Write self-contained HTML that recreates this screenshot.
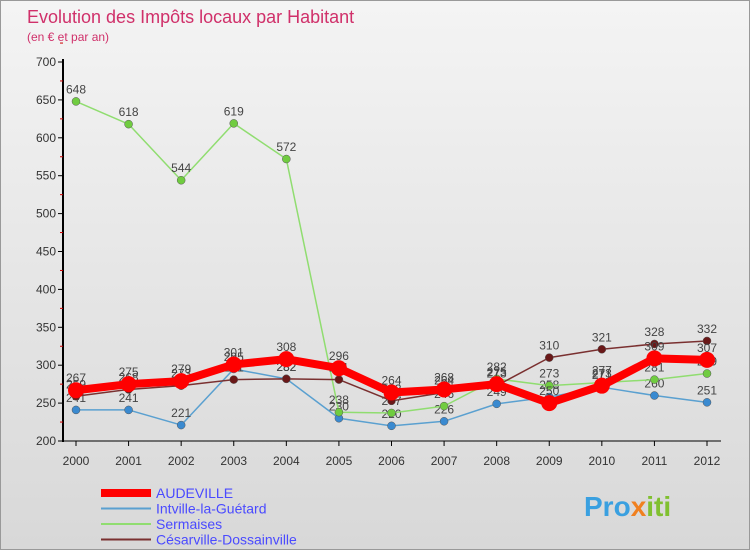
<!DOCTYPE html>
<html><head><meta charset="utf-8">
<style>
body{margin:0;width:750px;height:550px;overflow:hidden;font-family:"Liberation Sans",sans-serif;}
#wrap{position:relative;width:748px;height:548px;border:1px solid #999;background:linear-gradient(#f4f4f4,#d8d8d8);}
svg text{font-family:"Liberation Sans",sans-serif;}
</style></head><body>
<div id="wrap">
<svg id="chart" width="748" height="548">
<text x="26" y="22" font-size="18" fill="#d0306a">Evolution des Impôts locaux par Habitant</text>
<text x="26" y="40" font-size="12" fill="#d0306a">(en € et par an)</text>
<g id="axes"></g><g id="series"></g><g id="legend"></g>
<text x="583" y="515" font-size="28" font-weight="bold" fill="#3aa0e0">Pro<tspan fill="#f08020">x</tspan><tspan fill="#80c030">iti</tspan></text>
</svg></div>
<script>
const years=["2000","2001","2002","2003","2004","2005","2006","2007","2008","2009","2010","2011","2012"];
const yTicks=[200,250,300,350,400,450,500,550,600,650,700];
const audeville=[267,275,279,301,308,296,264,268,275,250,273,309,307];
const intville=[241,241,221,295,282,230,220,226,249,258,271,260,251];
const sermaises=[648,618,544,619,572,238,237,246,282,273,277,281,289];
const cesarville=[259,268,273,281,282,281,253,264,273,310,321,328,332];
const NS="http://www.w3.org/2000/svg";
function X(i){return 75+i*(706-75)/(years.length-1);}
function Y(v){return 440-(v-200)*(379/500);}
function mk(tag,attrs,parent){const e=document.createElementNS(NS,tag);for(const k in attrs)e.setAttribute(k,attrs[k]);parent.appendChild(e);return e;}
const axes=document.getElementById('axes');
let a=mk('line',{x1:62,y1:58,x2:62,y2:441,stroke:'#000','stroke-width':2},axes);


a=mk('line',{x1:61,y1:440,x2:720,y2:440,stroke:'#000','stroke-width':1},axes);


yTicks.forEach(v=>{
 mk('line',{x1:57,y1:Y(v),x2:62,y2:Y(v),stroke:'#000'},axes);
 mk('line',{x1:59,y1:Y(v+25),x2:62,y2:Y(v+25),stroke:'#c00'},axes);
 const t=mk('text',{x:55,y:Y(v)+4,'font-size':12,'text-anchor':'end',fill:'#333'},axes);
 t.textContent=v;
 
 
});
years.forEach((y,i)=>{
 mk('line',{x1:X(i),y1:440,x2:X(i),y2:445,stroke:'#000'},axes);
 const t=mk('text',{x:X(i),y:464,'font-size':12,'text-anchor':'middle',fill:'#333'},axes);
 t.textContent=y;
 
 
});
const series=[
 {name:'Intville-la-Guétard',data:intville,color:'#5aa0d0',w:1.5,r:4,fill:'#3a8ad0'},
 {name:'Sermaises',data:sermaises,color:'#90dd70',w:1.5,r:4,fill:'#70cc40'},
 {name:'Césarville-Dossainville',data:cesarville,color:'#7a3030',w:1.5,r:4,fill:'#6a1818'},
 {name:'AUDEVILLE',data:audeville,color:'#ff0000',w:8,r:8,fill:'#ff0000'}
];
const sg=document.getElementById('series');
series.forEach(s=>{
 const g=mk('g',{},sg);
 
 
 const pts=s.data.map((v,i)=>X(i)+','+Y(v)).join(' ');
 const pl=mk('polyline',{points:pts,fill:'none',stroke:s.color,'stroke-width':s.w,'stroke-linejoin':'round'},g);
 
 
 s.data.forEach((v,i)=>{
  const c=mk('circle',{cx:X(i),cy:Y(v),r:s.r,fill:s.fill,stroke:s.w>2?'none':'#555','stroke-width':0.5},g);
  
  
  const t=mk('text',{x:X(i),y:Y(v)-8,'font-size':12,'text-anchor':'middle',fill:'#444'},g);
  t.textContent=v;
  
  
 });
});
const lg=document.getElementById('legend');
const leg=[series[3],series[0],series[1],series[2]];
leg.forEach((s,k)=>{
 const y=492+k*15.5;
 const l=mk('line',{x1:100,y1:y,x2:150,y2:y,stroke:s.color,'stroke-width':s.w>2?8:2},lg);
 
 
 const t=mk('text',{x:155,y:y+5,'font-size':14,fill:'#4a4aff'},lg);
 t.textContent=s.name;
 
 
});
</script>
</body></html>
